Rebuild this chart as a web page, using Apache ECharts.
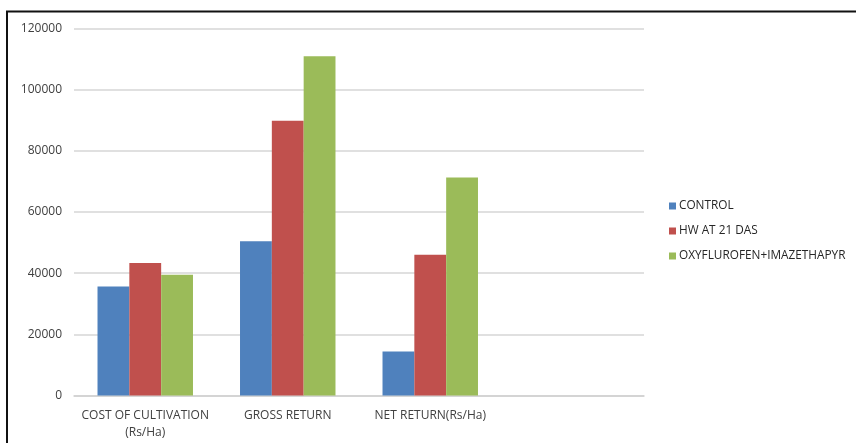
<!DOCTYPE html>
<html>
<head>
<meta charset="utf-8">
<script src="https://cdn.jsdelivr.net/npm/echarts@6/dist/echarts.min.js"></script>
<style>
html,body{margin:0;padding:0;background:#fff;}
#c{width:856px;height:443px;}
</style>
</head>
<body>
<div id="c"></div>
<script>
var categories = ['COST OF CULTIVATION\n(Rs/Ha)', 'GROSS RETURN', 'NET RETURN(Rs/Ha)', ''];
var seriesNames = ['CONTROL', 'HW AT 21 DAS', 'OXYFLUROFEN+IMAZETHAPYR'];
var control = [35600, 50400, 14400, null];
var hw21 = [43300, 89800, 46000, null];
var oxy = [39500, 110900, 71300, null];
var yTicks = [0, 20000, 40000, 60000, 80000, 100000, 120000];
var colors = ['#4f81bd', '#c0504d', '#9bbb59'];

var chart = echarts.init(document.getElementById('c'));
var font = '"Open Sans", "Liberation Sans", sans-serif';
chart.setOption({
  animation: false,
  color: colors,
  textStyle: {fontFamily: font},
  grid: {left: 74, right: 212, top: 28.5, bottom: 47.5},
  legend: {
    orient: 'vertical',
    left: 664,
    top: 195,
    itemWidth: 7,
    itemHeight: 7,
    itemGap: 13,
    icon: 'rect',
    textStyle: {fontSize: 11.8, color: '#262626', fontFamily: font, padding: [0, 0, 0, -2]},
    data: seriesNames
  },
  xAxis: {
    type: 'category',
    data: categories,
    axisLine: {lineStyle: {color: '#d0d0d0', width: 1.5}},
    axisTick: {show: false},
    axisLabel: {color: '#404040', fontSize: 12, margin: 12, lineHeight: 17, interval: 0}
  },
  yAxis: {
    type: 'value',
    min: yTicks[0],
    max: yTicks[yTicks.length - 1],
    interval: yTicks[1] - yTicks[0],
    axisLine: {show: false},
    axisTick: {show: false},
    axisLabel: {color: '#404040', fontSize: 12, margin: 12, formatter: function (v) { return String(v); }},
    splitLine: {lineStyle: {color: '#d6d6d6', width: 1.5}}
  },
  series: [
    {name: seriesNames[0], type: 'bar', data: control, barGap: '0%', barCategoryGap: '33%'},
    {name: seriesNames[1], type: 'bar', data: hw21, barGap: '0%', barCategoryGap: '33%'},
    {name: seriesNames[2], type: 'bar', data: oxy, barGap: '0%', barCategoryGap: '33%'}
  ],
  graphic: [
    {type: 'line', shape: {x1: 6, y1: 11.5, x2: 856, y2: 11.5}, style: {stroke: '#111', lineWidth: 2}, silent: true},
    {type: 'line', shape: {x1: 7, y1: 11, x2: 7, y2: 443}, style: {stroke: '#111', lineWidth: 2}, silent: true}
  ]
});
</script>
</body>
</html>
